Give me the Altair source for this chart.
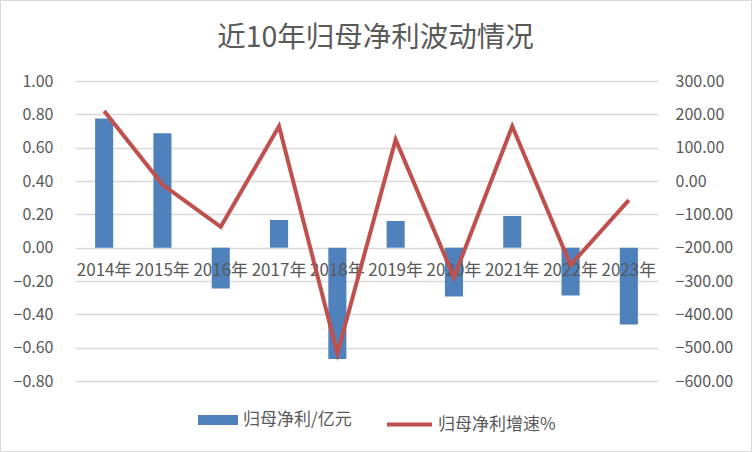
import altair as alt
import pandas as pd

years = ["2014年", "2015年", "2016年", "2017年", "2018年", "2019年", "2020年", "2021年", "2022年", "2023年"]
net_profit = [0.775, 0.687, -0.245, 0.166, -0.668, 0.16, -0.293, 0.19, -0.287, -0.461]
growth_pct = [210, -10.5, -137.5, 164, -517, 124, -289, 164, -252, -57.5]
left_ticks = [-0.8, -0.6, -0.4, -0.2, 0, 0.2, 0.4, 0.6, 0.8, 1.0]
right_ticks = [-600, -500, -400, -300, -200, -100, 0, 100, 200, 300]
bar_name = "归母净利/亿元"
line_name = "归母净利增速%"
title_text = "近10年归母净利波动情况"

FONT = "Noto Sans CJK SC"
GREY = "#595959"

df = pd.DataFrame({
    "year": years,
    "profit": net_profit,
    "growth": growth_pct,
    "bar_series": [bar_name] * len(years),
    "line_series": [line_name] * len(years),
})

W, H = 583, 300

base = alt.Chart(df)
xenc = alt.X("year:N", sort=years, axis=None,
             scale=alt.Scale(paddingInner=0, paddingOuter=0))

left_scale = alt.Scale(domain=[-0.8, 1.0], nice=False, zero=False)
left_axis = alt.Axis(values=left_ticks, format=".2f", title=None, orient="left",
                     ticks=False, domain=False, labelPadding=22, labelOverlap=False,
                     grid=True, gridColor="#D9D9D9", gridWidth=1.5,
                     labelFontSize=16, labelColor=GREY, labelFont=FONT)

bars = base.mark_bar(width={"band": 0.31}).encode(
    x=xenc,
    y=alt.Y("profit:Q", scale=left_scale, axis=left_axis),
    color=alt.Color("bar_series:N",
                    scale=alt.Scale(domain=[bar_name], range=["#4F81BD"]),
                    legend=alt.Legend(title=None, orient="none", legendX=123, legendY=319,
                                      symbolType="M-1,-0.25H1V0.25H-1Z", symbolSize=1600,
                                      symbolStrokeWidth=0, symbolOpacity=1,
                                      labelFontSize=17, labelColor=GREY, labelFont=FONT,
                                      labelOffset=5)),
)

labels = base.mark_text(fontSize=17, color=GREY, font=FONT, dy=23).encode(
    x=xenc,
    y=alt.YDatum(0, scale=left_scale, axis=left_axis),
    text="year:N",
)

inner = alt.layer(bars, labels)

line = base.mark_line(color="#C0504D", strokeWidth=4).encode(
    x=xenc,
    y=alt.Y("growth:Q",
            scale=alt.Scale(domain=[-600, 300], nice=False, zero=False),
            axis=alt.Axis(values=right_ticks,
                          format=".2f", title=None, orient="right",
                          ticks=False, domain=False, labelPadding=17, grid=False,
                          labelOverlap=False,
                          labelFontSize=16, labelColor=GREY, labelFont=FONT,
                          labelAlign="left")),
    stroke=alt.Stroke("line_series:N",
                      scale=alt.Scale(domain=[line_name], range=["#C0504D"]),
                      legend=alt.Legend(title=None, orient="none", legendX=310, legendY=319,
                                        symbolType="stroke", symbolSize=2025,
                                        symbolStrokeWidth=4,
                                        labelFontSize=17, labelColor=GREY, labelFont=FONT,
                                        labelOffset=4)),
)

frame = alt.Chart(alt.Data(values=[{}])).mark_rect(
    fill=None, stroke="#D9D9D9", strokeWidth=1
).encode(
    x=alt.value(-74.5), x2=alt.value(W + 93.5),
    y=alt.value(-80.5), y2=alt.value(H + 70.5),
)

chart = alt.layer(inner, line, frame).resolve_scale(
    y="independent", color="independent"
).properties(
    width=W, height=H,
    title=alt.TitleParams(title_text, fontSize=28.5, color=GREY, font=FONT,
                          fontWeight="normal", anchor="middle", frame="group",
                          baseline="bottom", offset=-81, dx=9),
    autosize=alt.AutoSizeParams(type="none"),
    padding={"left": 75, "top": 81, "right": 94, "bottom": 71},
    background="white",
).configure_view(stroke=None)

chart.save("out.html", embed_options={"renderer": "svg", "actions": False})
